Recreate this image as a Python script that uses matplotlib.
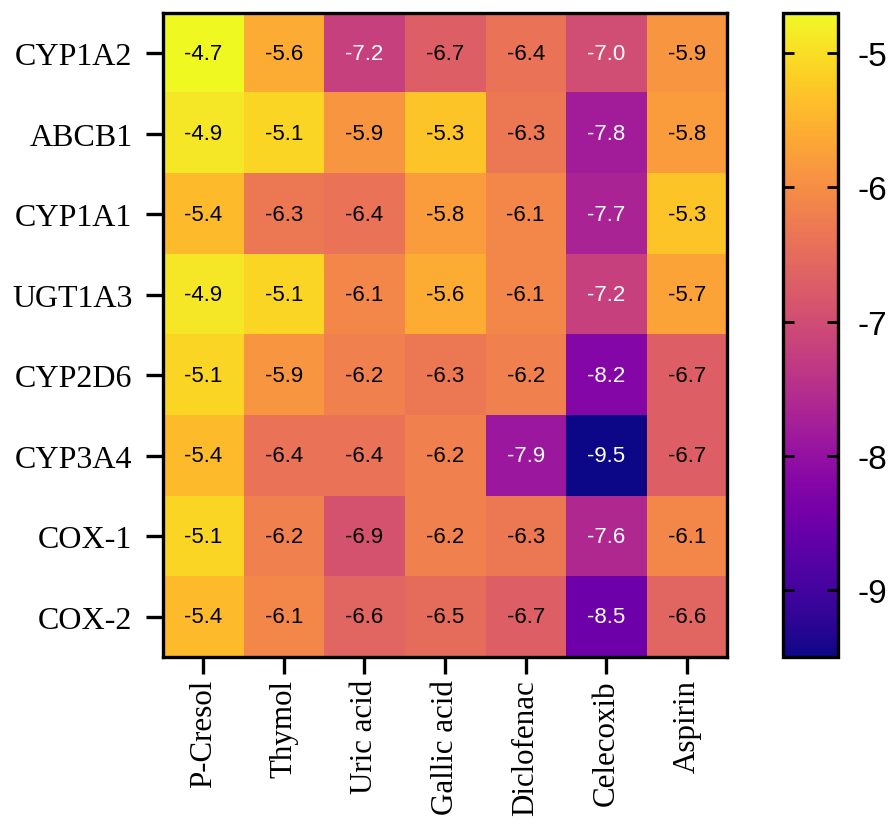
import numpy as np
import matplotlib.pyplot as plt

plt.rcParams['axes.unicode_minus'] = False

# Docking scores (kcal/mol)
targets = ['CYP1A2', 'ABCB1', 'CYP1A1', 'UGT1A3', 'CYP2D6', 'CYP3A4', 'COX-1', 'COX-2']
compounds = ['P-Cresol', 'Thymol', 'Uric acid', 'Gallic acid', 'Diclofenac', 'Celecoxib', 'Aspirin']

cyp1a2 = [-4.7, -5.6, -7.2, -6.7, -6.4, -7.0, -5.9]
abcb1 = [-4.9, -5.1, -5.9, -5.3, -6.3, -7.8, -5.8]
cyp1a1 = [-5.4, -6.3, -6.4, -5.8, -6.1, -7.7, -5.3]
ugt1a3 = [-4.9, -5.1, -6.1, -5.6, -6.1, -7.2, -5.7]
cyp2d6 = [-5.1, -5.9, -6.2, -6.3, -6.2, -8.2, -6.7]
cyp3a4 = [-5.4, -6.4, -6.4, -6.2, -7.9, -9.5, -6.7]
cox1 = [-5.1, -6.2, -6.9, -6.2, -6.3, -7.6, -6.1]
cox2 = [-5.4, -6.1, -6.6, -6.5, -6.7, -8.5, -6.6]

cbar_ticks = [-5, -6, -7, -8, -9]

scores = np.array([cyp1a2, abcb1, cyp1a1, ugt1a3, cyp2d6, cyp3a4, cox1, cox2])

fig = plt.figure(figsize=(8.91, 8.2), dpi=100)
ax = fig.add_axes([0.183, 0.1976, 0.633, 0.7854])
cax = fig.add_axes([0.879, 0.1976, 0.0617, 0.7854])

im = ax.imshow(scores, cmap='plasma', vmin=scores.min(), vmax=scores.max(), aspect='auto')

# annotate each cell
for i in range(scores.shape[0]):
    for j in range(scores.shape[1]):
        v = scores[i, j]
        col = 'white' if v <= -7.0 else 'black'
        ax.text(j, i, f'{v:.1f}', ha='center', va='center', color=col,
                fontsize=16, family='Liberation Sans')

ax.set_xticks(range(len(compounds)))
ax.set_xticklabels(compounds, rotation=90, family='Liberation Serif', fontsize=22.3)
ax.set_yticks(range(len(targets)))
ax.set_yticklabels(targets, family='Liberation Serif', fontsize=23)
ax.tick_params(length=12, width=2.4)
ax.tick_params(axis='x', pad=4)
ax.tick_params(axis='y', pad=10)
for s in ax.spines.values():
    s.set_linewidth(2.4)

cb = fig.colorbar(im, cax=cax, ticks=cbar_ticks)
cb.outline.set_linewidth(2.4)
cax.tick_params(which='both', direction='in', length=8, width=2, labelsize=24,
                left=True, right=True, pad=14)
cax.minorticks_off()
for lab in cax.get_yticklabels():
    lab.set_family('Liberation Sans')

fig.savefig('out.png', dpi=100)
